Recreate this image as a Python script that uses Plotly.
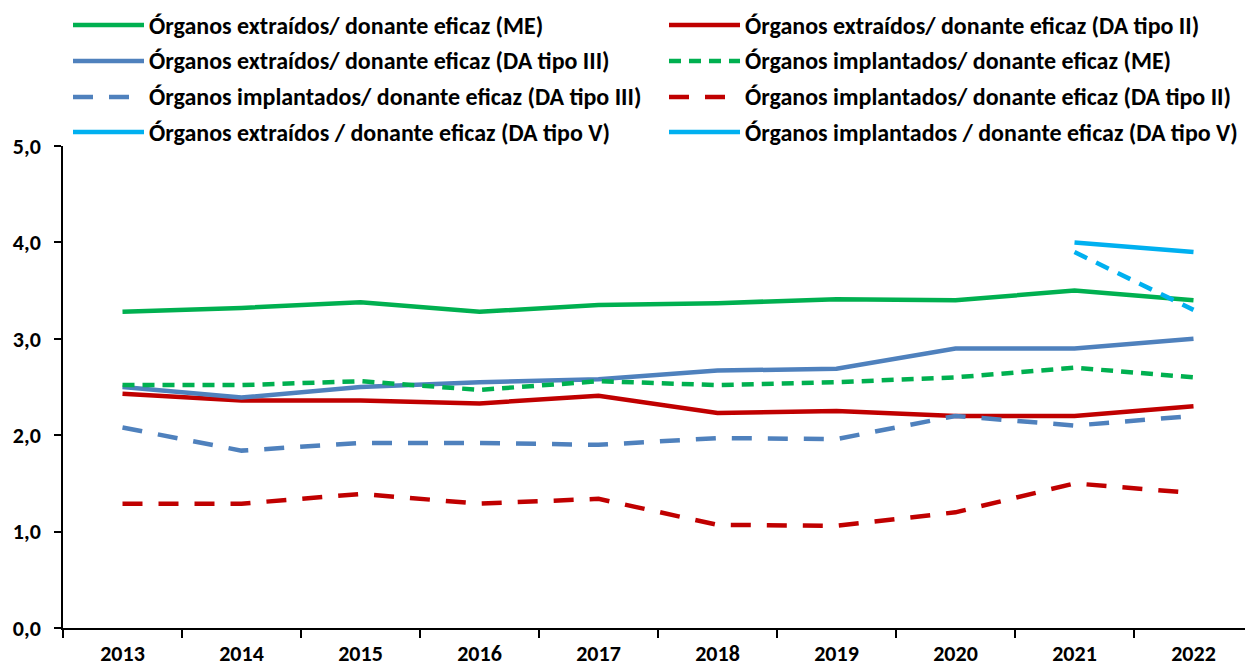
import plotly.graph_objects as go

years = ["2013", "2014", "2015", "2016", "2017", "2018", "2019", "2020", "2021", "2022"]

me_extr = [3.28, 3.32, 3.38, 3.28, 3.35, 3.37, 3.41, 3.40, 3.50, 3.40]
da2_extr = [2.43, 2.36, 2.36, 2.33, 2.41, 2.23, 2.25, 2.20, 2.20, 2.30]
da3_extr = [2.50, 2.39, 2.50, 2.55, 2.58, 2.67, 2.69, 2.90, 2.90, 3.00]
me_impl = [2.52, 2.52, 2.56, 2.47, 2.56, 2.52, 2.55, 2.60, 2.70, 2.60]
da3_impl = [2.08, 1.84, 1.92, 1.92, 1.90, 1.97, 1.96, 2.20, 2.10, 2.20]
da2_impl = [1.29, 1.29, 1.39, 1.29, 1.34, 1.07, 1.06, 1.20, 1.50, 1.40]
da5_years = ["2021", "2022"]
da5_extr = [4.00, 3.90]
da5_impl = [3.90, 3.30]

names = [
    "Órganos extraídos/ donante eficaz (ME)",
    "Órganos extraídos/ donante eficaz (DA tipo II)",
    "Órganos extraídos/ donante eficaz (DA tipo III)",
    "Órganos implantados/ donante eficaz (ME)",
    "Órganos implantados/ donante eficaz (DA tipo III)",
    "Órganos implantados/ donante eficaz (DA tipo II)",
    "Órganos extraídos / donante eficaz (DA tipo V)",
    "Órganos implantados / donante eficaz (DA tipo V)",
]

GREEN = "#00B050"
RED = "#C00000"
BLUE = "#4F81BD"
CYAN = "#00B0F0"

series = [
    (years, me_extr, GREEN, "solid"),
    (years, da2_extr, RED, "solid"),
    (years, da3_extr, BLUE, "solid"),
    (years, me_impl, GREEN, "12px,8px"),
    (years, da3_impl, BLUE, "20px,16px"),
    (years, da2_impl, RED, "20px,16px"),
    (da5_years, da5_extr, CYAN, "solid"),
    (da5_years, da5_impl, CYAN, "14px,10px"),
]
# legend samples (the reference legend draws the DA tipo V implant line solid)
legend_dash = ["solid", "solid", "solid", "12px,8px", "20px,16px", "20px,16px", "solid", "solid"]

fig = go.Figure()
for (x, y, c, d), n in zip(series, names):
    fig.add_trace(go.Scatter(x=x, y=y, mode="lines", name=n, showlegend=False,
                             line=dict(color=c, width=4.5, dash=d)))

FONT = "Calibri, Carlito, Lato, Arial"
OFF = 8  # page body margin
W, H = 1253 - OFF, 670 - OFF
L, R, T, B = 63 - OFF, 0, 146 - OFF, 42

pw = W - L - R
ph = H - T - B
def px(xp):
    return (xp - OFF - L) / pw
def py(yp):
    return (H - B - (yp - OFF)) / ph

rows_y = [25, 61, 97, 132]
cols = [(73, 144, 149), (669, 740, 745)]
for i, n in enumerate(names):
    row, col = i // 2, i % 2
    x0, x1, xt = cols[col]
    yy = rows_y[row]
    c = series[i][2]
    fig.add_shape(type="line", xref="paper", yref="paper",
                  x0=px(x0), x1=px(x1), y0=py(yy), y1=py(yy),
                  line=dict(color=c, width=4.5, dash=legend_dash[i]))
    fig.add_annotation(xref="paper", yref="paper", x=px(xt), y=py(yy),
                       text=f"<b>{n}</b>", showarrow=False, xanchor="left", yanchor="middle",
                       xshift=-2, font=dict(family=FONT, size=24, color="#000000"))

fig.update_layout(
    width=W, height=H,
    margin=dict(l=L, r=R, t=T, b=B, autoexpand=False),
    paper_bgcolor="white", plot_bgcolor="white",
    separators=",.",
    showlegend=False,
    font=dict(family=FONT, size=24, color="#000000"),
)
fig.update_xaxes(
    type="category", range=[-0.5, 9.5], automargin=False,
    showline=True, linecolor="#000000", linewidth=2,
    ticks="outside", tickson="boundaries", ticklen=8, tickcolor="#000000", tickwidth=1.5,
    showgrid=False, zeroline=False,
    tickfont=dict(family=FONT, size=22, color="#000000"),
    ticklabelstandoff=5,
    tickprefix="<b>", ticksuffix="</b>",
)
fig.update_yaxes(
    range=[0, 5], dtick=1, tickformat=".1f", automargin=False,
    showline=True, linecolor="#000000", linewidth=1.5,
    ticks="outside", ticklen=7, tickcolor="#000000", tickwidth=1.5,
    showgrid=False, zeroline=False,
    tickfont=dict(family=FONT, size=22, color="#000000"),
    ticklabelstandoff=9,
    tickprefix="<b>", ticksuffix="</b>",
)

fig.write_html("out.html")
